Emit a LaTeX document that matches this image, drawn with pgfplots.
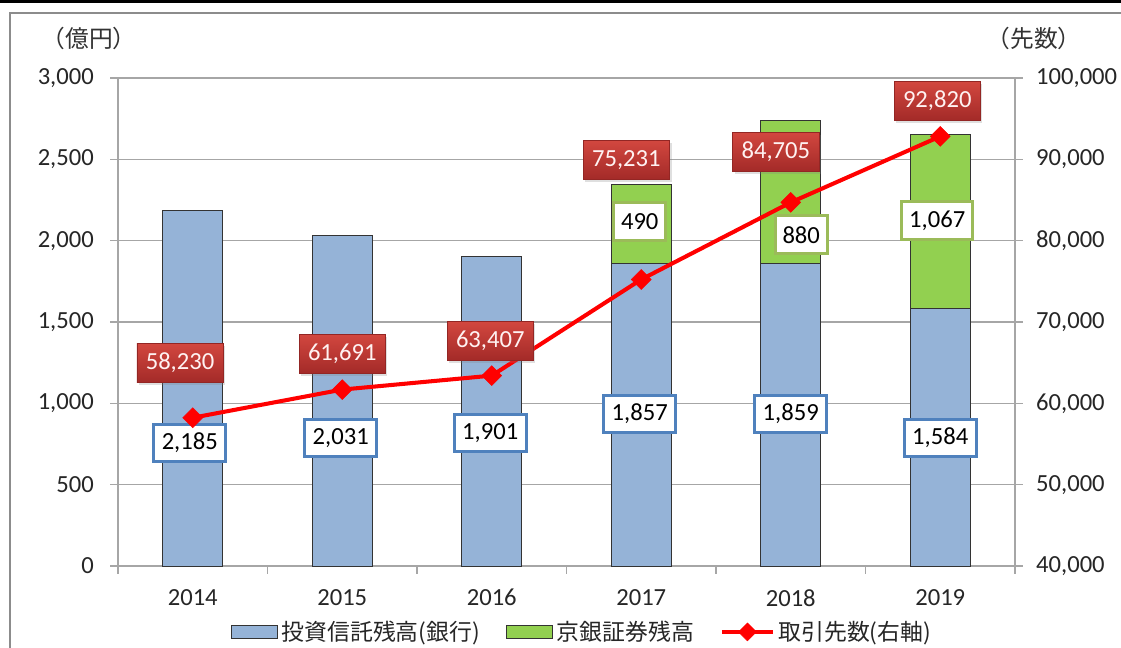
\documentclass[border=0pt]{standalone}
\usepackage{pgfplots}
\pgfplotsset{compat=1.18}
\usetikzlibrary{shadows}
\usepackage{fontspec}
\setmainfont{Carlito}
\newfontfamily\jp{Noto Sans CJK JP}
\definecolor{barblue}{HTML}{95B3D7}
\definecolor{bargreen}{HTML}{92D050}
\definecolor{lblue}{HTML}{4F81BD}
\definecolor{lgreen}{HTML}{9BBB59}
\definecolor{gridgray}{HTML}{A6A6A6}
\definecolor{redtop}{HTML}{D2473F}
\definecolor{redbot}{HTML}{A32A28}
\tikzset{
 bluelab/.style={draw=lblue, line width=0.06cm, fill=white, minimum width=1.44cm, minimum height=0.74cm, inner sep=1pt, font=\fontsize{14}{16}\selectfont},
 greenlab/.style={draw=lgreen, line width=0.06cm, fill=white, minimum height=0.76cm, inner xsep=0.15cm, inner ysep=1pt, font=\fontsize{14}{16}\selectfont},
 redlab/.style={top color=redtop, bottom color=redbot, draw=redbot!90!black, line width=0.3pt, text=red!5, minimum height=0.78cm, inner xsep=0.18cm, inner ysep=1pt, font=\fontsize{14}{16}\selectfont,
   drop shadow={opacity=0.25, shadow xshift=0.04cm, shadow yshift=-0.05cm}}
}
\begin{document}
\begin{tikzpicture}
\path[use as bounding box] (0,0) rectangle (22.42cm,12.96cm);
\fill[white] (0,0) rectangle (22.42cm,12.96cm);
\draw[black, line width=0.06cm] (0,12.93cm) -- (22.42cm,12.93cm);
\draw[black!45, line width=0.04cm] (0.2cm,-0.5cm) -- (0.2cm,12.70cm) -- (23cm,12.70cm);
\node[font=\jp\fontsize{13.5}{15}\selectfont, text=black!80] at (1.78cm,12.2cm) {（億円）};
\node[font=\jp\fontsize{13.5}{15}\selectfont, text=black!80] at (20.68cm,12.2cm) {（先数）};
\pgfplotsset{
 common/.style={scale only axis, width=17.94cm, height=9.76cm, at={(2.36cm,1.64cm)}, anchor=south west,
 xmin=-0.5, xmax=5.5, clip=false,
 tick align=outside, major tick length=0.16cm,
 tick style={gridgray, line width=0.6pt}, axis line style={gridgray, line width=0.8pt},
 ticklabel style={font=\fontsize{14}{16}\selectfont, text=black!85},
 scaled y ticks=false,
 /pgf/number format/fixed, /pgf/number format/1000 sep={,}, /pgf/number format/assume math mode=true}
}
\begin{axis}[common, ymin=0, ymax=3000, ytick={0,500,...,3000},
 axis y line*=left, axis x line*=bottom,
 yticklabel style={xshift=-0.2cm},
 xticklabel style={yshift=-0.18cm},
 ymajorgrids, grid style={gridgray, line width=0.6pt},
 xtick={-0.5,0.5,...,5.5}, xticklabels={2014,2015,2016,2017,2018,2019}, x tick label as interval,
 ybar stacked, bar width=0.4]
\addplot[fill=barblue, draw=black!80, line width=0.5pt] coordinates {(0,2185) (1,2031) (2,1901) (3,1857) (4,1859) (5,1584)};
\addplot[fill=bargreen, draw=black!80, line width=0.5pt] coordinates {(0,0) (1,0) (2,0) (3,490) (4,880) (5,1067)};
\end{axis}
\begin{axis}[common, ymin=40000, ymax=100000, ytick={40000,50000,...,100000},
 axis y line*=right, axis x line=none, yticklabel style={anchor=west, xshift=0.14cm},
 legend columns=3,
 legend style={at={(0.518,-0.135)}, anchor=center, draw=none, fill=none,
   font=\jp\fontsize{13}{15}\selectfont, text=black!85, /tikz/every even column/.append style={column sep=0.45cm}},
 legend cell align=left]
\addlegendimage{legend image code/.code={\draw[fill=barblue, draw=black!80, line width=0.8pt] (0cm,-0.13cm) rectangle (0.92cm,0.13cm);}}
\addlegendentry{投資信託残高(銀行)}
\addlegendimage{legend image code/.code={\draw[fill=bargreen, draw=black!80, line width=0.8pt] (0cm,-0.13cm) rectangle (0.92cm,0.13cm);}}
\addlegendentry{京銀証券残高}
\addplot[red, line width=2.3pt, mark=square*, mark size=4pt, mark options={solid, rotate=45, fill=red, draw=red, line width=0.3pt},
 legend image code/.code={\draw[red, line width=2.3pt] (0cm,0cm) -- (1.02cm,0cm); \draw[red, fill=red, line width=0.3pt] plot[mark=square*, mark size=3.6pt, mark options={rotate=45}] coordinates {(0.51cm,0cm)};}]
 coordinates {(0,58230) (1,61691) (2,63407) (3,75231) (4,84705) (5,92820)};
\addlegendentry{取引先数(右軸)}
\node[bluelab] at (axis cs:-0.02,55123) {2,185};
\node[bluelab] at (axis cs:0.99,55738) {2,031};
\node[bluelab] at (axis cs:1.99,56352) {1,901};
\node[bluelab] at (axis cs:2.99,58688) {1,857};
\node[bluelab] at (axis cs:4.0,58688) {1,859};
\node[bluelab] at (axis cs:5.0,55738) {1,584};
\node[greenlab] at (axis cs:2.99,82295) {490};
\node[greenlab] at (axis cs:4.07,80697) {880};
\node[greenlab] at (axis cs:4.98,82418) {1,067};
\node[redlab] at (axis cs:-0.085,64959) {58,230};
\node[redlab] at (axis cs:1.0,66065) {61,691};
\node[redlab] at (axis cs:1.99,67664) {63,407};
\node[redlab] at (axis cs:2.90,89918) {75,231};
\node[redlab] at (axis cs:3.90,90901) {84,705};
\node[redlab] at (axis cs:4.98,97172) {92,820};
\end{axis}
\end{tikzpicture}
\end{document}
